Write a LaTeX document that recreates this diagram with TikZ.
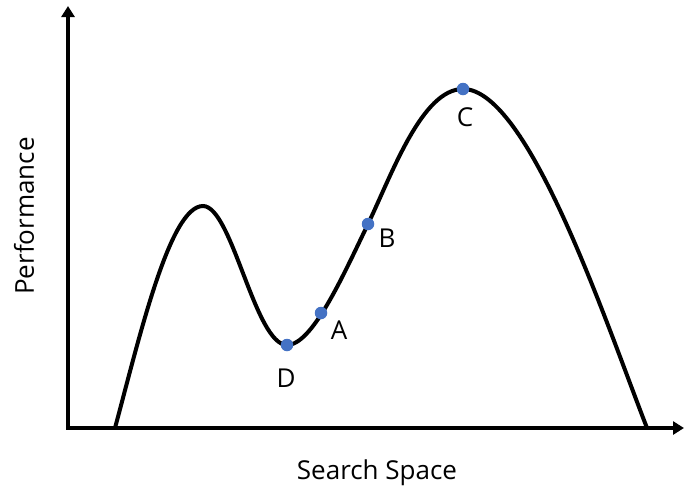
\documentclass[tikz,border=0pt]{standalone}
\usepackage{fontspec}
\setmainfont{Open Sans}
\usetikzlibrary{arrows.meta}
\begin{document}
\begin{tikzpicture}[x=1pt,y=-1pt,
  axis/.style={line width=4pt,-{Triangle[width=13pt,length=11pt]}},
  curve/.style={line width=4pt},
  pt/.style={circle,fill=ptblue,inner sep=0pt,minimum size=12.5pt},
  lbl/.style={font=\fontsize{26}{30}\selectfont,inner sep=0pt}]
\definecolor{ptblue}{HTML}{4472C4}
\useasboundingbox (0,0) rectangle (684,491);
\coordinate (O) at (68,428);
\coordinate (Ytop) at (68,6);
\coordinate (Xend) at (684,428);
\draw[axis] (O) -- (Ytop);
\draw[axis] ([xshift=-2pt]O) -- (Xend);
\draw[curve] (115,428) .. controls (140,335) and (170,206) .. (203,206)
  .. controls (232,206) and (255,345) .. (287,345)
  .. controls (312,345) and (342,278) .. (368,224)
  .. controls (392,174) and (422,89) .. (463,89)
  .. controls (528,89) and (605,320) .. (647,428);
\node[pt] (D) at (287,345) {};
\node[pt] (A) at (321,313) {};
\node[pt] (B) at (368,224) {};
\node[pt] (C) at (463,89) {};
\node[lbl] (lD) at (286,378) {D};
\node[lbl] (lA) at (339,330) {A};
\node[lbl] (lB) at (387,238) {B};
\node[lbl] (lC) at (465,117) {C};
\node[lbl] (xl) at (377,473) {Search Space};
\node[lbl,rotate=90] (yl) at (24,216) {Performance};
\end{tikzpicture}
\end{document}
